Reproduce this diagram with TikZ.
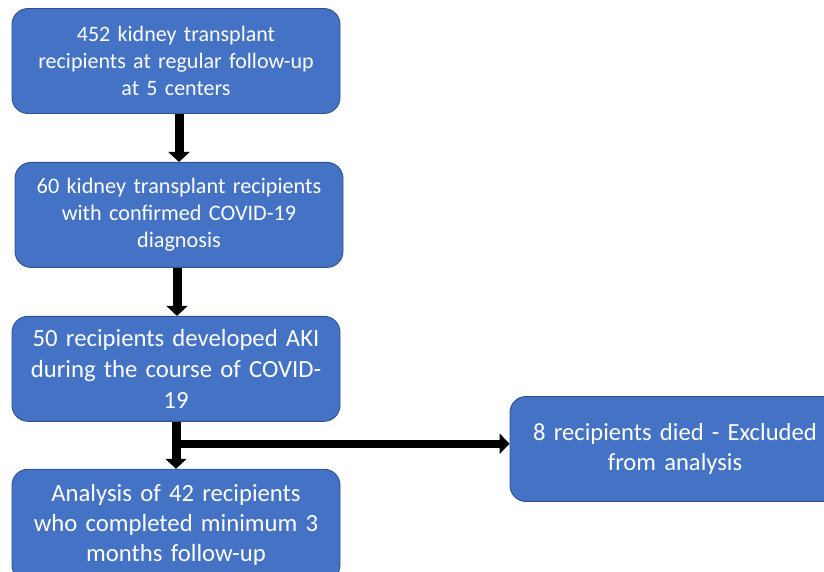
\documentclass[tikz,border=0pt]{standalone}
\usepackage{fontspec}
\setmainfont{Carlito}
\usetikzlibrary{positioning, arrows.meta, calc}
\definecolor{boxblue}{HTML}{4472C4}
\definecolor{boxedge}{HTML}{2F528F}

\begin{document}
\begin{tikzpicture}[
  x=1pt, y=-1pt,
  stage/.style={draw=boxedge, line width=0.9pt, rounded corners=16pt, fill=boxblue, text=white,
    align=center, inner sep=0pt, minimum width=328pt, minimum height=105pt},
  flow/.style={line width=9pt, -{Triangle[length=10pt,width=21pt]}},
]
  \useasboundingbox (0,0) rectangle (824,571);
  \node[stage, text width=310pt, font=\fontsize{22}{27}\selectfont] (start) at (176,61)
    {452 kidney transplant\\ recipients at regular follow-up\\ at 5 centers};
  \node[stage, text width=310pt, font=\fontsize{22.2}{27}\selectfont, below=48pt of start, xshift=3pt] (covid)
    {60 kidney transplant recipients\\ with confirmed COVID-19\\ diagnosis};
  \node[stage, text width=316pt, font=\fontsize{24.7}{31}\selectfont, below=48pt of covid, xshift=-3pt] (aki)
    {50 recipients developed AKI\\ during the course of COVID-\\ 19};
  \node[stage, minimum height=112pt, text width=316pt, font=\fontsize{24.7}{30}\selectfont, below=47pt of aki] (analysis)
    {Analysis of 42 recipients\\ who completed minimum 3\\ months follow-up};
  \node[stage, minimum width=330pt, text width=310pt, font=\fontsize{24.6}{30}\selectfont] (died) at (675,449)
    {8 recipients died - Excluded\\ from analysis};

  \coordinate (split) at ($(aki.south)+(0,22)$);
  \draw[flow] ($(start.south)+(3,0)$) -- ($(covid.north)+(0,0)$);
  \draw[flow] ($(covid.south)+(-2,0)$) -- ($(aki.north)+(1,0)$);
  \draw[flow] (aki.south) -- (analysis.north);
  \draw[line width=8pt, -{Triangle[length=10pt,width=20pt]}] (split) -- (split -| died.west);
\end{tikzpicture}
\end{document}
